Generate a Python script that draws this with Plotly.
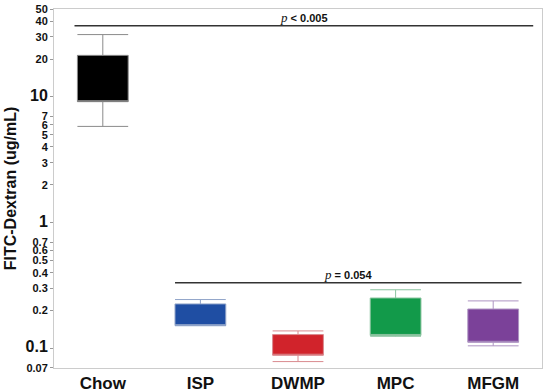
import math
import plotly.graph_objects as go

# dados (escala log)
groups = ["Chow", "ISP", "DWMP", "MPC", "MFGM"]
q1 = [9.17, 0.152, 0.0884, 0.127, 0.112]
q3 = [21.4, 0.226, 0.129, 0.252, 0.206]
lower = [5.83, 0.152, 0.0787, 0.125, 0.105]
upper = [31.3, 0.245, 0.138, 0.293, 0.239]
fill_colors = ["#000000", "#1f4ea3", "#d1232b", "#129a4a", "#7b4199"]
line_colors = ["#8a8a8a", "#8fa3c8", "#d98a8f", "#8cc4a0", "#ad94c2"]

# linhas de significância
sig_labels = ["< 0.005", "= 0.054"]
sig_y = [36.8, 0.333]
sig_x0 = [-0.29, 0.74]
sig_x1 = [4.41, 4.29]

tick_vals = [0.07, 0.1, 0.2, 0.3, 0.4, 0.5, 0.6, 0.7, 1, 2, 3, 4, 5, 6, 7, 10, 20, 30, 40, 50]
big_ticks = [0.1, 1, 10]


def tick_label(v):
    s = f"{v:g}"
    if v in big_ticks:
        return f"<b><span style='font-size:16px'>{s}</span></b>"
    return f"<b>{s}</b>"


fig = go.Figure()
for i, g in enumerate(groups):
    fig.add_trace(go.Box(
        x=[g], q1=[q1[i]], median=[q1[i]], q3=[q3[i]],
        lowerfence=[lower[i]], upperfence=[upper[i]],
        fillcolor=fill_colors[i],
        line=dict(color=line_colors[i], width=1),
        whiskerwidth=1, width=0.52, boxpoints=False,
        showlegend=False, hoverinfo="skip",
    ))

for i in range(len(sig_y)):
    fig.add_shape(type="line", xref="x", yref="y",
                  x0=sig_x0[i], x1=sig_x1[i], y0=sig_y[i], y1=sig_y[i],
                  line=dict(color="#333333", width=1.5))
    # anotações em eixo log usam log10
    fig.add_annotation(
        x=(sig_x0[i] + sig_x1[i]) / 2, y=math.log10(sig_y[i]), yref="y", xref="x",
        text=f"<span style='font-family:Liberation Serif;font-size:13px'><i>p</i></span><b> {sig_labels[i]}</b>",
        showarrow=False, yanchor="bottom", yshift=-1,
        font=dict(size=11, color="#111111", family="Liberation Sans"),
    )

fig.update_layout(
    width=550, height=392,
    margin=dict(l=54, r=8, t=9, b=24),
    paper_bgcolor="white", plot_bgcolor="white",
    font=dict(family="Liberation Sans", color="#111111"),
)
fig.update_xaxes(
    type="category", range=[-0.5, 4.5], automargin=False,
    tickfont=dict(size=17, family="Liberation Sans"),
    ticktext=[f"<b>{g}</b>" for g in groups], tickvals=groups,
    showline=True, linecolor="#cccccc", mirror=True, ticks="",
    showgrid=False,
)
fig.update_yaxes(
    type="log", range=[-1.155, 1.699], automargin=False,
    tickvals=tick_vals, ticktext=[tick_label(v) for v in tick_vals],
    tickfont=dict(size=11, family="Liberation Sans"),
    ticks="outside", ticklen=3, tickcolor="#999999",
    showline=True, linecolor="#cccccc", mirror=True,
    showgrid=False, zeroline=False,
    title=dict(text="<b>FITC-Dextran (ug/mL)</b>", font=dict(size=16), standoff=4),
)

# tira a margem padrão do body para o gráfico ficar em (0, 0)
fig.write_html("out.html", config={"displayModeBar": False},
               post_script="document.body.style.margin='0';")
